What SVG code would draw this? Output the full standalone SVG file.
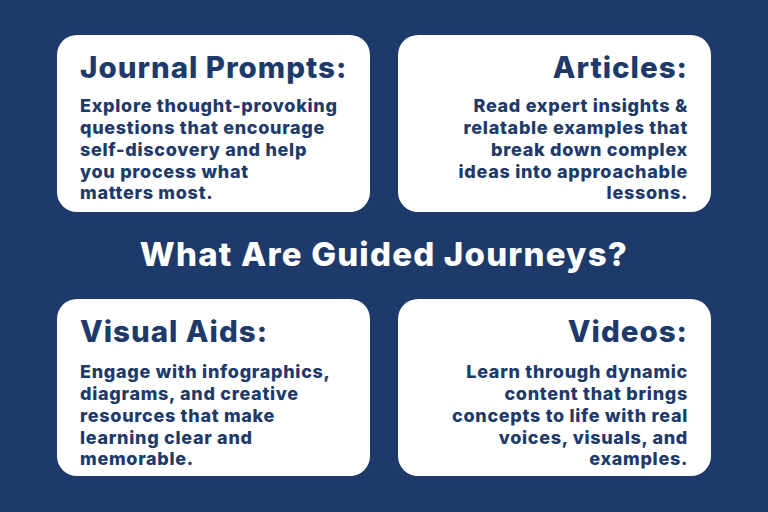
<svg xmlns="http://www.w3.org/2000/svg" width="768" height="512" viewBox="0 0 768 512">
<style>
.card{fill:#fff}
.h{font-family:Inter,"Open Sans",sans-serif;font-weight:800;font-size:29.5px;letter-spacing:1px;fill:#1e3a6a}
.b{font-family:Inter,"Open Sans",sans-serif;font-weight:800;font-size:18px;letter-spacing:0.7px;fill:#1e3a6a}
.r{text-anchor:end}
</style>
<rect width="768" height="512" fill="#1e3a6a"/>
<g id="journal">
<rect class="card" x="57" y="35" width="313" height="177" rx="20"/>
<text class="h" x="80" y="78">Journal Prompts:</text>
<text class="b" x="80" y="112">Explore thought-provoking</text>
<text class="b" x="80" y="134">questions that encourage</text>
<text class="b" x="80" y="156">self-discovery and help</text>
<text class="b" x="80" y="178">you process what</text>
<text class="b" x="80" y="199">matters most.</text>
</g>
<g id="articles">
<rect class="card" x="398" y="35" width="313" height="177" rx="20"/>
<text class="h r" x="688" y="78">Articles:</text>
<text class="b r" x="688" y="112">Read expert insights &amp;</text>
<text class="b r" x="688" y="134">relatable examples that</text>
<text class="b r" x="688" y="156">break down complex</text>
<text class="b r" x="688" y="178">ideas into approachable</text>
<text class="b r" x="688" y="199">lessons.</text>
</g>
<text x="384" y="266" text-anchor="middle" font-family="Inter,'Open Sans',sans-serif" font-weight="800" font-size="33" letter-spacing="1.2" fill="#fff">What Are Guided Journeys?</text>
<g id="visual">
<rect class="card" x="57" y="299" width="313" height="177" rx="20"/>
<text class="h" x="80" y="342">Visual Aids:</text>
<text class="b" x="80" y="378">Engage with infographics,</text>
<text class="b" x="80" y="400">diagrams, and creative</text>
<text class="b" x="80" y="422">resources that make</text>
<text class="b" x="80" y="444">learning clear and</text>
<text class="b" x="80" y="465">memorable.</text>
</g>
<g id="videos">
<rect class="card" x="398" y="299" width="313" height="177" rx="20"/>
<text class="h r" x="688" y="342">Videos:</text>
<text class="b r" x="688" y="378">Learn through dynamic</text>
<text class="b r" x="688" y="400">content that brings</text>
<text class="b r" x="688" y="422">concepts to life with real</text>
<text class="b r" x="688" y="444">voices, visuals, and</text>
<text class="b r" x="688" y="465">examples.</text>
</g>
<g id="connectors"/>
</svg>
